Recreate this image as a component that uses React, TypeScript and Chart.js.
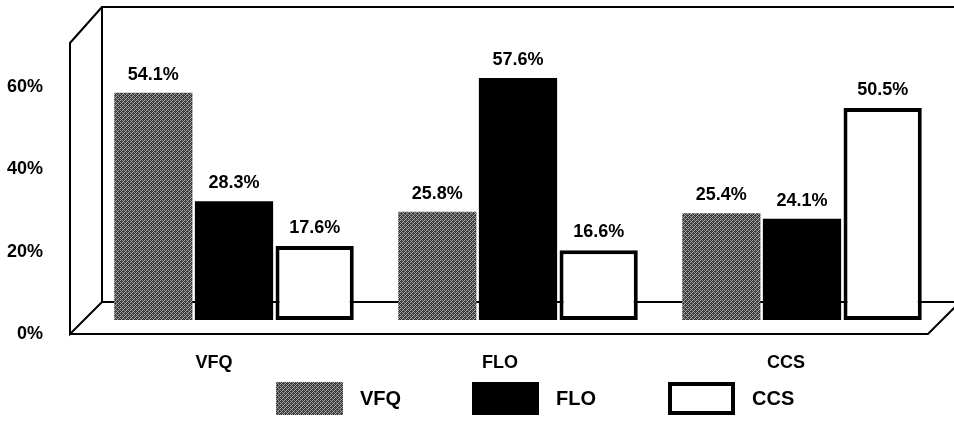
import React, { useEffect, useRef } from 'react';
import { Chart, registerables } from 'chart.js';

Chart.register(...registerables);

// ---- data ----
const categories = ['VFQ', 'FLO', 'CCS'];
const seriesNames = ['VFQ', 'FLO', 'CCS'];
const vfqValues = [54.1, 25.8, 25.4];
const floValues = [28.3, 57.6, 24.1];
const ccsValues = [17.6, 16.6, 50.5];
const yTickValues = [0, 20, 40, 60];
const xTickValues = [0, 1, 2];

// ---- layout / style ----
const FONT = '"Liberation Sans", Arial, Helvetica, sans-serif';
const W = 954;
const H = 429;
const AREA_TOP = 12;
const AREA_BOTTOM = 345;
const AREA_LEFT = 92;
const AREA_RIGHT = 944;
const BAR_ZERO_PX = 320;
const BAR_PX_PER_UNIT = 4.2;
const FRONT_ZERO_PX = 334;
const FRONT_PX_PER_UNIT = 4.12;
const XF_FIRST_PX = 214;
const XF_STEP_PX = 286;

const areaH = AREA_BOTTOM - AREA_TOP;
const areaW = AREA_RIGHT - AREA_LEFT;
const yMin = -(AREA_BOTTOM - BAR_ZERO_PX) / BAR_PX_PER_UNIT;
const yMax = yMin + areaH / BAR_PX_PER_UNIT;
const yfMin = -(AREA_BOTTOM - FRONT_ZERO_PX) / FRONT_PX_PER_UNIT;
const yfMax = yfMin + areaH / FRONT_PX_PER_UNIT;
const xfMin = -(XF_FIRST_PX - AREA_LEFT) / XF_STEP_PX;
const xfMax = xfMin + areaW / XF_STEP_PX;

function makePattern(): CanvasPattern | string {
  const c = document.createElement('canvas');
  c.width = 8;
  c.height = 8;
  const g = c.getContext('2d');
  if (!g) return '#6a6a6a';
  const img = g.createImageData(8, 8);
  for (let y = 0; y < 8; y++) {
    for (let x = 0; x < 8; x++) {
      const a = (x + y) % 4 === 0;
      const b = (x - y + 8) % 4 === 2;
      const v = a ? 165 : b ? 140 : (x + 2 * y) % 3 === 0 ? 80 : 55;
      const i = (y * 8 + x) * 4;
      img.data[i] = v;
      img.data[i + 1] = v;
      img.data[i + 2] = v;
      img.data[i + 3] = 255;
    }
  }
  g.putImageData(img, 0, 0);
  return g.createPattern(c, 'repeat') || '#6a6a6a';
}

const framePlugin = {
  id: 'frame3d',
  beforeDatasetsDraw(chart: any) {
    const ctx = chart.ctx;
    const yf = chart.scales.yFront;
    const a = chart.chartArea;
    const floorF = yf.getPixelForValue(0);
    const depth = 32;
    const xFL = a.left - 22;
    const xBL = xFL + depth;
    const floorB = floorF - depth;
    const topB = 7;
    const topF = 43;
    const xFR = 928;
    ctx.save();
    ctx.strokeStyle = '#000';
    ctx.lineWidth = 2;
    ctx.lineJoin = 'miter';
    ctx.beginPath();
    // back wall
    ctx.moveTo(W + 2, topB);
    ctx.lineTo(xBL, topB);
    ctx.lineTo(xBL, floorB);
    ctx.lineTo(W + 2, floorB);
    // left side panel
    ctx.moveTo(xBL, topB);
    ctx.lineTo(xFL, topF);
    ctx.lineTo(xFL, floorF);
    ctx.lineTo(xBL, floorB);
    // front floor edge
    ctx.moveTo(xFL, floorF);
    ctx.lineTo(xFR, floorF);
    ctx.lineTo(xFR + depth, floorF - depth);
    ctx.stroke();
    ctx.restore();
  },
};

const valueLabelPlugin = {
  id: 'valueLabels',
  afterDatasetsDraw(chart: any) {
    const ctx = chart.ctx;
    ctx.save();
    ctx.font = `bold 18px ${FONT}`;
    ctx.fillStyle = '#000';
    ctx.textAlign = 'center';
    ctx.textBaseline = 'alphabetic';
    chart.data.datasets.forEach((ds: any, di: number) => {
      const meta = chart.getDatasetMeta(di);
      meta.data.forEach((el: any, i: number) => {
        ctx.fillText(ds.data[i].toFixed(1) + '%', el.x, el.y - 13);
      });
    });
    ctx.restore();
  },
};

const legendPlugin = {
  id: 'boxLegend',
  afterDraw(chart: any) {
    const ctx = chart.ctx;
    const startX = 276;
    const step = 196;
    const boxW = 67;
    const boxH = 33;
    const top = 382;
    ctx.save();
    ctx.font = `bold 20px ${FONT}`;
    ctx.textAlign = 'left';
    ctx.textBaseline = 'middle';
    chart.data.datasets.forEach((ds: any, i: number) => {
      const x = startX + i * step;
      ctx.fillStyle = ds.backgroundColor;
      ctx.fillRect(x, top, boxW, boxH);
      if (ds.borderWidth > 0) {
        ctx.strokeStyle = ds.borderColor;
        ctx.lineWidth = ds.borderWidth;
        const h = ds.borderWidth / 2;
        ctx.strokeRect(x + h, top + h, boxW - ds.borderWidth, boxH - ds.borderWidth);
      }
      ctx.fillStyle = '#000';
      ctx.fillText(ds.label, x + boxW + 17, top + boxH / 2 + 1);
    });
    ctx.restore();
  },
};

export default function App() {
  const ref = useRef<HTMLCanvasElement | null>(null);

  useEffect(() => {
    if (!ref.current) return;
    const grey = makePattern();
    const tickFont = { family: FONT, size: 18, weight: 'bold' as const };
    const chart = new Chart(ref.current, {
      type: 'bar',
      data: {
        labels: categories,
        datasets: [
          {
            label: seriesNames[0],
            data: vfqValues,
            backgroundColor: grey as any,
            borderWidth: 0,
            borderColor: '#000',
          },
          {
            label: seriesNames[1],
            data: floValues,
            backgroundColor: '#000',
            borderWidth: 0,
            borderColor: '#000',
          },
          {
            label: seriesNames[2],
            data: ccsValues,
            backgroundColor: '#fff',
            borderColor: '#000',
            borderWidth: 4,
            borderSkipped: false,
          },
        ],
      },
      options: {
        responsive: false,
        animation: false,
        events: [],
        layout: { padding: { top: AREA_TOP, right: W - AREA_RIGHT, bottom: 0, left: 0 } },
        datasets: {
          bar: { categoryPercentage: 0.852, barPercentage: 0.97 },
        },
        plugins: {
          legend: { display: false },
          tooltip: { enabled: false },
          title: { display: false },
        },
        scales: {
          x: { display: false, offset: true },
          y: { display: false, min: yMin, max: yMax },
          xFront: {
            type: 'linear',
            position: 'bottom',
            offset: false,
            min: xfMin,
            max: xfMax,
            grid: { display: false, drawTicks: false, offset: false },
            border: { display: false },
            afterBuildTicks: (s: any) => {
              s.ticks = xTickValues.map((v) => ({ value: v }));
            },
            afterFit: (s: any) => {
              s.height = H - AREA_BOTTOM;
              s.paddingLeft = 0;
              s.paddingRight = 0;
            },
            ticks: {
              padding: 7,
              color: '#000',
              font: tickFont,
              maxRotation: 0,
              autoSkip: false,
              callback: (v: any) => categories[Math.round(Number(v))] ?? '',
            },
          },
          yFront: {
            type: 'linear',
            position: 'left',
            offset: false,
            beginAtZero: false,
            min: yfMin,
            max: yfMax,
            grid: { display: false, drawTicks: false },
            border: { display: false },
            afterBuildTicks: (s: any) => {
              s.ticks = yTickValues.map((v) => ({ value: v }));
            },
            afterFit: (s: any) => {
              s.width = AREA_LEFT;
              s.paddingTop = 0;
              s.paddingBottom = 0;
            },
            ticks: {
              padding: 49,
              color: '#000',
              font: tickFont,
              callback: (v: any) => `${v}%`,
            },
          },
        } as any,
      },
      plugins: [framePlugin, valueLabelPlugin, legendPlugin],
    });
    return () => chart.destroy();
  }, []);

  return (
    <div style={{ position: 'absolute', left: 0, top: 0, width: W, height: H, background: '#fff' }}>
      <canvas ref={ref} width={W} height={H} style={{ display: 'block' }} />
    </div>
  );
}
